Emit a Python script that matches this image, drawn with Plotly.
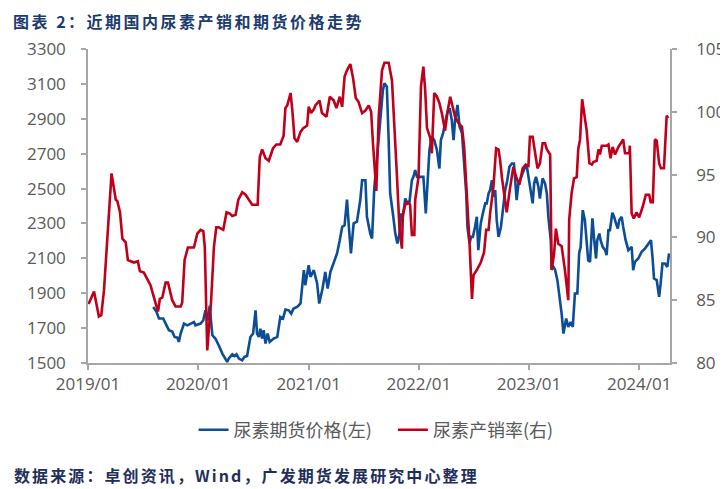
import plotly.graph_objects as go

# 尿素产销率(右)
rate_dates = [
    "2019-01-03", "2019-01-21", "2019-02-06", "2019-02-14", "2019-02-23", "2019-03-06", "2019-03-20", "2019-04-03", "2019-04-08", "2019-04-17",
    "2019-04-25", "2019-05-06", "2019-05-13", "2019-06-02", "2019-06-15", "2019-06-22", "2019-07-05", "2019-07-16", "2019-07-27", "2019-08-10",
    "2019-08-21", "2019-08-27", "2019-09-04", "2019-09-15", "2019-09-23", "2019-10-07", "2019-10-18", "2019-11-04", "2019-11-09", "2019-11-17",
    "2019-11-28", "2019-12-18", "2019-12-29", "2020-01-09", "2020-01-18", "2020-01-23", "2020-01-31", "2020-02-13", "2020-02-22", "2020-03-01",
    "2020-03-09", "2020-03-24", "2020-04-04", "2020-04-15", "2020-04-23", "2020-05-04", "2020-05-13", "2020-05-26", "2020-06-06", "2020-06-17",
    "2020-06-28", "2020-07-16", "2020-07-23", "2020-07-31", "2020-08-11", "2020-08-22", "2020-09-05", "2020-09-16", "2020-09-29", "2020-10-10",
    "2020-10-16", "2020-10-22", "2020-11-02", "2020-11-08", "2020-11-15", "2020-11-24", "2020-12-05", "2020-12-14", "2020-12-27", "2021-01-01",
    "2021-01-09", "2021-01-18", "2021-01-23", "2021-02-06", "2021-02-14", "2021-03-01", "2021-03-12", "2021-03-25", "2021-04-03", "2021-04-14",
    "2021-04-22", "2021-04-30", "2021-05-08", "2021-05-19", "2021-05-28", "2021-06-06", "2021-06-15", "2021-06-27", "2021-07-08", "2021-07-19",
    "2021-07-27", "2021-08-02", "2021-08-13", "2021-08-21", "2021-09-01", "2021-09-09", "2021-09-23", "2021-10-04", "2021-10-09", "2021-10-20",
    "2021-10-29", "2021-11-06", "2021-11-09", "2021-11-17", "2021-11-28", "2021-12-03", "2021-12-09", "2021-12-17", "2021-12-20", "2021-12-31",
    "2022-01-08", "2022-01-16", "2022-01-22", "2022-01-28", "2022-02-08", "2022-02-13", "2022-02-21", "2022-03-02", "2022-03-10", "2022-03-18",
    "2022-03-29", "2022-04-06", "2022-04-15", "2022-04-24", "2022-05-01", "2022-05-12", "2022-05-24", "2022-05-31", "2022-06-09", "2022-06-18",
    "2022-06-26", "2022-07-01", "2022-07-12", "2022-07-25", "2022-08-05", "2022-08-12", "2022-08-20", "2022-08-25", "2022-09-05", "2022-09-14",
    "2022-09-22", "2022-09-27", "2022-10-03", "2022-10-10", "2022-10-19", "2022-10-30", "2022-11-10", "2022-11-21", "2022-11-30", "2022-12-11",
    "2022-12-21", "2022-12-30", "2023-01-04", "2023-01-13", "2023-01-21", "2023-01-29", "2023-02-06", "2023-02-15", "2023-02-23", "2023-03-01",
    "2023-03-12", "2023-03-17", "2023-03-25", "2023-03-31", "2023-04-08", "2023-04-19", "2023-04-30", "2023-05-11", "2023-05-14", "2023-05-22",
    "2023-05-30", "2023-06-08", "2023-06-13", "2023-06-19", "2023-06-26", "2023-07-05", "2023-07-11", "2023-07-20", "2023-07-28", "2023-08-02",
    "2023-08-13", "2023-08-19", "2023-08-24", "2023-08-30", "2023-09-15", "2023-09-21", "2023-09-28", "2023-10-05", "2023-10-13", "2023-10-24",
    "2023-11-04", "2023-11-09", "2023-11-15", "2023-11-29", "2023-12-01", "2023-12-07", "2023-12-14", "2023-12-23", "2024-01-01", "2024-01-12",
    "2024-01-23", "2024-02-03", "2024-02-08", "2024-02-15", "2024-02-22", "2024-02-28", "2024-03-07", "2024-03-13", "2024-03-23", "2024-04-01",
    "2024-04-06",
]
rate_values = [
    84.7, 85.7, 83.7, 83.8, 85.8, 89.8, 95.1, 93.0, 92.9, 92.0,
    89.9, 89.6, 88.2, 88.0, 88.1, 87.3, 87.2, 86.7, 86.2, 85.0,
    84.1, 85.1, 85.2, 86.4, 86.4, 85.0, 84.5, 84.5, 84.8, 88.2,
    89.2, 89.2, 90.3, 90.6, 90.5, 89.2, 81.0, 85.0, 89.2, 90.8,
    90.8, 90.6, 92.0, 91.9, 91.7, 91.8, 93.0, 93.6, 93.4, 93.0,
    92.6, 92.6, 96.4, 97.0, 96.3, 96.1, 97.1, 97.4, 97.4, 98.1,
    100.3, 100.5, 101.5, 100.1, 97.9, 97.6, 98.4, 98.7, 98.9, 100.4,
    99.9, 100.2, 100.5, 100.9, 99.9, 99.6, 101.2, 100.9, 100.3, 101.2,
    100.4, 102.8, 103.3, 103.8, 102.7, 101.1, 100.8, 99.9, 100.1, 100.5,
    100.0, 97.5, 93.7, 99.6, 103.3, 103.9, 103.9, 102.5, 100.4, 95.1,
    90.6, 89.1, 91.8, 92.6, 92.8, 92.6, 90.2, 90.2, 93.0, 94.8,
    102.0, 103.6, 101.7, 98.7, 97.9, 96.7, 101.5, 101.2, 100.7, 99.9,
    98.5, 100.0, 101.2, 100.4, 99.6, 99.1, 98.8, 97.2, 93.8, 89.5,
    85.1, 87.0, 87.4, 88.0, 88.8, 90.6, 90.6, 91.9, 94.0, 97.1,
    97.0, 96.2, 94.8, 93.5, 92.0, 93.9, 95.6, 94.7, 94.2, 95.5,
    95.8, 95.7, 98.0, 98.0, 96.7, 95.5, 95.9, 97.5, 97.5, 97.0,
    96.6, 87.4, 88.7, 90.7, 89.5, 89.3, 87.4, 85.0, 91.4, 93.5,
    94.7, 94.8, 97.0, 97.8, 101.0, 99.7, 98.5, 95.9, 95.8, 96.0,
    96.1, 97.0, 96.6, 97.3, 97.3, 97.4, 96.3, 97.2, 96.6, 97.2,
    97.6, 97.8, 96.7, 96.7, 97.3, 91.9, 91.5, 92.0, 91.6, 92.4,
    93.4, 93.4, 92.8, 92.8, 97.8, 97.7, 95.9, 95.5, 95.5, 99.7,
    99.5,
]

# 尿素期货价格(左)
price_dates = [
    "2019-08-05", "2019-08-16", "2019-08-24", "2019-09-07", "2019-09-18", "2019-09-26", "2019-10-07", "2019-10-15", "2019-10-24", "2019-10-29",
    "2019-11-04", "2019-11-15", "2019-11-26", "2019-12-07", "2019-12-18", "2019-12-23", "2020-01-09", "2020-01-18", "2020-01-25", "2020-02-02",
    "2020-02-08", "2020-02-17", "2020-02-27", "2020-03-09", "2020-03-21", "2020-04-06", "2020-04-11", "2020-04-23", "2020-04-30", "2020-05-07",
    "2020-05-15", "2020-05-26", "2020-06-02", "2020-06-11", "2020-06-22", "2020-07-01", "2020-07-09", "2020-07-14", "2020-07-20", "2020-07-25",
    "2020-07-31", "2020-08-05", "2020-08-11", "2020-08-18", "2020-08-25", "2020-09-07", "2020-09-19", "2020-09-29", "2020-10-08", "2020-10-16",
    "2020-10-27", "2020-11-04", "2020-11-12", "2020-11-24", "2020-12-05", "2020-12-16", "2020-12-21", "2021-01-01", "2021-01-07", "2021-01-18",
    "2021-01-29", "2021-02-05", "2021-02-16", "2021-02-25", "2021-03-05", "2021-03-14", "2021-03-25", "2021-04-05", "2021-04-14", "2021-04-22",
    "2021-04-30", "2021-05-08", "2021-05-15", "2021-05-21", "2021-05-30", "2021-06-10", "2021-06-21", "2021-06-27", "2021-07-08", "2021-07-13",
    "2021-07-24", "2021-07-30", "2021-08-06", "2021-08-13", "2021-08-21", "2021-08-29", "2021-09-04", "2021-09-09", "2021-09-17", "2021-09-23",
    "2021-09-28", "2021-10-07", "2021-10-15", "2021-10-22", "2021-10-29", "2021-11-03", "2021-11-09", "2021-11-17", "2021-11-25", "2021-12-01",
    "2021-12-09", "2021-12-14", "2021-12-20", "2021-12-26", "2021-12-31", "2022-01-11", "2022-01-16", "2022-01-24", "2022-01-30", "2022-02-05",
    "2022-02-13", "2022-02-21", "2022-03-02", "2022-03-10", "2022-03-15", "2022-03-22", "2022-03-29", "2022-04-06", "2022-04-13", "2022-04-20",
    "2022-04-26", "2022-05-01", "2022-05-09", "2022-05-16", "2022-05-24", "2022-05-31", "2022-06-07", "2022-06-11", "2022-06-18", "2022-06-23",
    "2022-06-29", "2022-07-06", "2022-07-12", "2022-07-17", "2022-07-25", "2022-08-01", "2022-08-09", "2022-08-14", "2022-08-20", "2022-08-25",
    "2022-08-31", "2022-09-05", "2022-09-11", "2022-09-16", "2022-09-22", "2022-09-30", "2022-10-08", "2022-10-14", "2022-10-21", "2022-10-28",
    "2022-11-05", "2022-11-12", "2022-11-21", "2022-11-27", "2022-12-02", "2022-12-11", "2022-12-19", "2022-12-25", "2022-12-30", "2023-01-07",
    "2023-01-13", "2023-01-18", "2023-01-24", "2023-02-01", "2023-02-06", "2023-02-15", "2023-02-23", "2023-03-01", "2023-03-06", "2023-03-14",
    "2023-03-17", "2023-03-23", "2023-03-28", "2023-04-05", "2023-04-11", "2023-04-19", "2023-04-25", "2023-05-04", "2023-05-11", "2023-05-19",
    "2023-05-26", "2023-06-02", "2023-06-10", "2023-06-16", "2023-06-21", "2023-06-28", "2023-07-05", "2023-07-11", "2023-07-16", "2023-07-22",
    "2023-07-30", "2023-08-04", "2023-08-11", "2023-08-15", "2023-08-22", "2023-08-26", "2023-09-02", "2023-09-10", "2023-09-15", "2023-09-21",
    "2023-09-26", "2023-10-04", "2023-10-10", "2023-10-16", "2023-10-22", "2023-10-27", "2023-11-04", "2023-11-09", "2023-11-17", "2023-11-26",
    "2023-12-01", "2023-12-07", "2023-12-12", "2023-12-18", "2023-12-29", "2024-01-09", "2024-01-20", "2024-01-31", "2024-02-09", "2024-02-14",
    "2024-02-19", "2024-02-28", "2024-03-07", "2024-03-12", "2024-03-18", "2024-03-26", "2024-04-03", "2024-04-09",
]
price_values = [
    1821, 1793, 1755, 1755, 1716, 1688, 1680, 1649, 1645, 1621,
    1669, 1726, 1716, 1726, 1735, 1716, 1726, 1745, 1802, 1745,
    1827, 1659, 1640, 1602, 1554, 1506, 1525, 1550, 1540, 1550,
    1525, 1515, 1535, 1540, 1649, 1669, 1802, 1669, 1649, 1697,
    1640, 1688, 1612, 1669, 1621, 1640, 1650, 1764, 1755, 1806,
    1802, 1783, 1812, 1821, 1841, 2032, 1946, 2061, 1994, 2032,
    1956, 1841, 1927, 2022, 1927, 2022, 2080, 2128, 2204, 2280,
    2290, 2437, 2261, 2128, 2300, 2310, 2434, 2548, 2548, 2338,
    2242, 2214, 2491, 2625, 2759, 2931, 3065, 3103, 3084, 2778,
    2472, 2357, 2242, 2185, 2242, 2357, 2338, 2443, 2415, 2424,
    2548, 2567, 2606, 2567, 2567, 2570, 2567, 2357, 2548, 2720,
    2797, 2778, 2720, 2615, 2778, 2816, 2874, 2940, 2960, 2893,
    2778, 2893, 2979, 2854, 2816, 2663, 2472, 2280, 2185, 2223,
    2223, 2280, 2338, 2147, 2300, 2357, 2415, 2415, 2472, 2491,
    2548, 2453, 2491, 2319, 2223, 2280, 2395, 2491, 2548, 2625,
    2644, 2644, 2434, 2530, 2548, 2587, 2625, 2625, 2567, 2491,
    2415, 2530, 2567, 2510, 2443, 2558, 2530, 2472, 2338, 2204,
    2036, 2051, 2036, 1975, 1898, 1783, 1669, 1755, 1707, 1735,
    1707, 1898, 1898, 2128, 2166, 2376, 2319, 2166, 2089, 2080,
    2329, 2223, 2099, 2204, 2242, 2204, 2166, 2147, 2118, 2261,
    2261, 2361, 2338, 2300, 2271, 2319, 2338, 2280, 2204, 2147,
    2156, 2166, 2032, 2080, 2099, 2137, 2156, 2185, 2204, 2108,
    1984, 1975, 1879, 1955, 2070, 2070, 2051, 2128,
]

year_ticks = ["2019-01-01", "2020-01-01", "2021-01-01", "2022-01-01", "2023-01-01", "2024-01-01"]
year_labels = ["2019/01", "2020/01", "2021/01", "2022/01", "2023/01", "2024/01"]

axis_grey = "#a6a6a6"
tick_font = dict(family="Open Sans", size=17, color="#595959")
gap = "\u00a0" * 4  # extra room between the two legend entries

fig = go.Figure()
fig.add_trace(go.Scatter(
    x=price_dates, y=price_values, name="尿素期货价格(左)" + gap, mode="lines",
    line=dict(color="#0c4d98", width=2.6),
))
fig.add_trace(go.Scatter(
    x=rate_dates, y=rate_values, name="尿素产销率(右)", mode="lines",
    line=dict(color="#c0001a", width=2.6), yaxis="y2",
))

# the page body adds an 8px offset, so the figure is 8px smaller than the window
fig.update_layout(
    width=720,
    height=481,
    margin=dict(l=80, r=58, t=41, b=126, autoexpand=False),
    paper_bgcolor="white",
    plot_bgcolor="white",
    title=dict(
        text='<span style="letter-spacing:2.5px">图表 2：近期国内尿素产销和期货价格走势</span>',
        x=5 / 720, xanchor="left", y=1 - 14 / 481, yanchor="middle",
        font=dict(family="Noto Sans CJK SC", size=16, color="#1d3c6e", weight="bold"),
    ),
    xaxis=dict(
        type="date",
        range=["2019-01-01", "2024-04-12"],
        tickvals=year_ticks,
        ticktext=year_labels,
        showgrid=False,
        showline=True, linecolor=axis_grey, linewidth=1.5,
        ticks="outside", ticklen=5, tickcolor=axis_grey, tickwidth=1.5,
        tickfont=tick_font,
    ),
    yaxis=dict(
        range=[1500, 3300], tick0=1500, dtick=200,
        showgrid=False, zeroline=False,
        showline=True, linecolor=axis_grey, linewidth=1.5,
        ticks="outside", ticklen=5, tickcolor=axis_grey, tickwidth=1.5,
        tickfont=tick_font,
        ticklabelstandoff=12,
    ),
    yaxis2=dict(
        overlaying="y", side="right",
        range=[80, 105], tick0=80, dtick=5,
        showgrid=False, zeroline=False,
        showline=True, linecolor=axis_grey, linewidth=1.5,
        ticks="outside", ticklen=5, tickcolor=axis_grey, tickwidth=1.5,
        tickfont=tick_font,
        ticklabelstandoff=16,
    ),
    legend=dict(
        orientation="h", x=0.495, xanchor="center", y=-(430 - 363) / 314, yanchor="middle",
        font=dict(family="Noto Sans CJK SC", size=18, color="#595959"),
        itemwidth=30,
    ),
    annotations=[dict(
        text='<span style="letter-spacing:2.1px">数据来源：卓创资讯，Wind，广发期货发展研究中心整理</span>',
        xref="paper", yref="paper", x=(4 - 80) / 582, y=-(467 - 355) / 314,
        xanchor="left", yanchor="middle", showarrow=False,
        font=dict(family="Noto Sans CJK SC", size=16, color="#1f2f5a", weight="bold"),
    )],
)

fig.write_html("out.html")
